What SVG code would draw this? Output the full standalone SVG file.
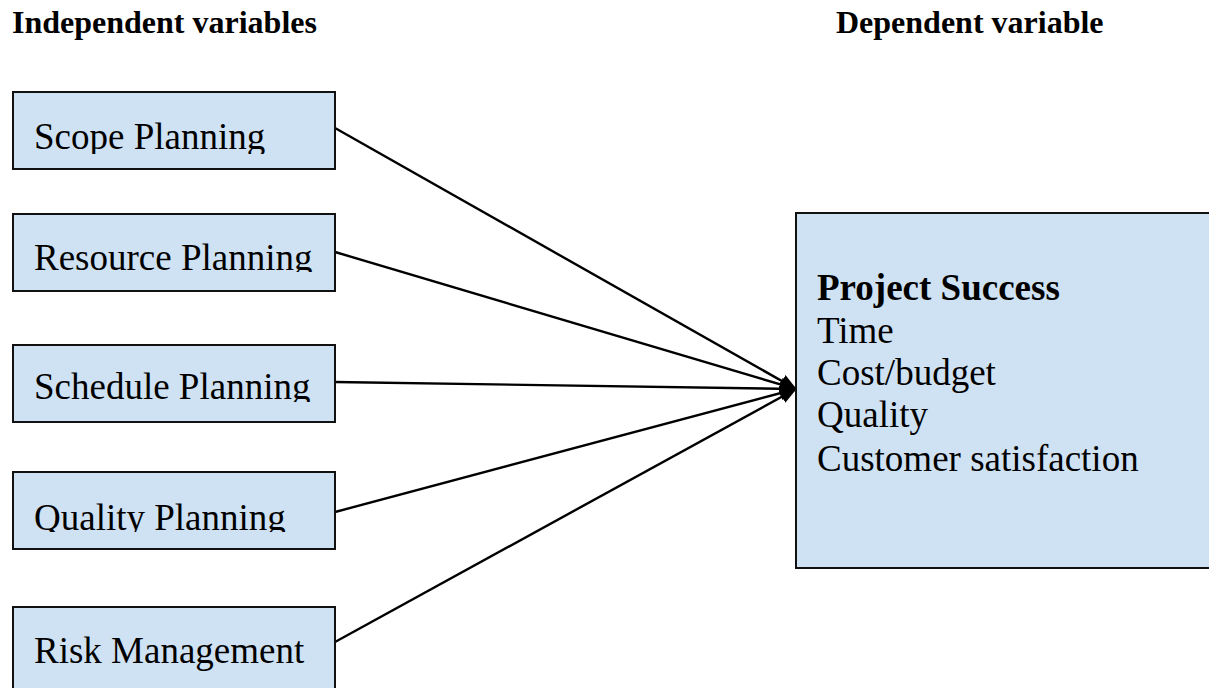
<svg xmlns="http://www.w3.org/2000/svg" width="1209" height="688" viewBox="0 0 1209 688">
<style>
.box{fill:#cfe2f3;stroke:#111;stroke-width:2}
.t{font-family:"Liberation Serif","Times New Roman",serif;font-size:37px;fill:#000}
.h{font-family:"Liberation Serif","Times New Roman",serif;font-size:32px;font-weight:bold;fill:#000}
.c{stroke:#000;stroke-width:2.4;fill:none;marker-end:url(#ah)}
</style>
<defs>
<marker id="ah" markerWidth="17" markerHeight="14" refX="16" refY="7" orient="auto" markerUnits="userSpaceOnUse">
<path d="M0,0 L17,7 L0,14 z" fill="#000"/>
</marker>
<clipPath id="c1"><rect x="13" y="92" width="322" height="62"/></clipPath>
<clipPath id="c2"><rect x="13" y="214" width="322" height="58"/></clipPath>
<clipPath id="c3"><rect x="13" y="345" width="322" height="57"/></clipPath>
<clipPath id="c4"><rect x="13" y="472" width="322" height="60"/></clipPath>
</defs>
<rect width="1209" height="688" fill="#fff"/>
<text class="h" x="12" y="33">Independent variables</text>
<text class="h" x="836" y="33">Dependent variable</text>
<g id="connectors">
<line class="c" x1="335" y1="128" x2="796" y2="389"/>
<line class="c" x1="335" y1="252" x2="796" y2="389"/>
<line class="c" x1="335" y1="382" x2="796" y2="389"/>
<line class="c" x1="335" y1="512" x2="796" y2="389"/>
<line class="c" x1="335" y1="642" x2="796" y2="389"/>
</g>
<g id="scope">
<rect class="box" x="13" y="92" width="322" height="77"/>
<text class="t" x="34" y="149" clip-path="url(#c1)">Scope Planning</text>
</g>
<g id="resource">
<rect class="box" x="13" y="214" width="322" height="77"/>
<text class="t" x="34" y="270" clip-path="url(#c2)">Resource Planning</text>
</g>
<g id="schedule">
<rect class="box" x="13" y="345" width="322" height="77"/>
<text class="t" x="34" y="399" clip-path="url(#c3)">Schedule Planning</text>
</g>
<g id="quality">
<rect class="box" x="13" y="472" width="322" height="77"/>
<text class="t" x="34" y="530" clip-path="url(#c4)">Quality Planning</text>
</g>
<g id="risk">
<rect class="box" x="13" y="607" width="322" height="90"/>
<text class="t" x="34" y="663">Risk Management</text>
</g>
<g id="success">
<rect class="box" x="796" y="213" width="430" height="355"/>
<text class="t" x="817" y="300"><tspan font-weight="bold">Project Success</tspan><tspan x="817" dy="43">Time</tspan><tspan x="817" dy="42">Cost/budget</tspan><tspan x="817" dy="42">Quality</tspan><tspan x="817" dy="44">Customer satisfaction</tspan></text>
</g>
</svg>
